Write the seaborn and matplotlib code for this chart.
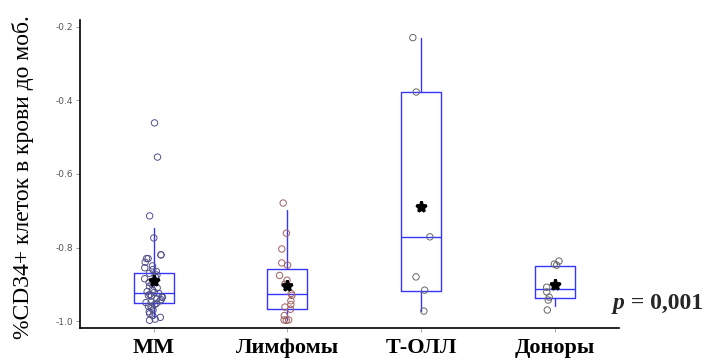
import numpy as np
import pandas as pd
import matplotlib
matplotlib.use("Agg")
import matplotlib.pyplot as plt
import seaborn as sns

# ---------------- data ----------------
categories = ["ММ", "Лимфомы", "Т-ОЛЛ", "Доноры"]

mm_values = [-0.461, -0.554, -0.714, -0.774,
             -0.82, -0.82, -0.83, -0.83, -0.84, -0.85, -0.855, -0.86, -0.865, -0.87,
             -0.875, -0.88, -0.885, -0.89, -0.895, -0.90, -0.905, -0.91, -0.915, -0.92, -0.922,
             -0.925, -0.928, -0.93, -0.932, -0.935, -0.935, -0.94, -0.942, -0.945, -0.948, -0.95, -0.952,
             -0.955, -0.96, -0.96, -0.965, -0.97, -0.975, -0.98, -0.985, -0.99, -0.995, -0.998]
lymph_values = [-0.679, -0.761, -0.804, -0.842, -0.848, -0.876, -0.889, -0.90, -0.925,
                -0.93, -0.945, -0.955, -0.962, -0.968, -0.985, -0.997, -0.997, -0.998]
tall_values = [-0.229, -0.377, -0.771, -0.880, -0.916, -0.973]
donor_values = [-0.837, -0.845, -0.848, -0.908, -0.921, -0.935, -0.943, -0.970]

# box statistics (per category)
box_q1 = [-0.951, -0.967, -0.918, -0.937]
box_median = [-0.924, -0.927, -0.771, -0.913]
box_q3 = [-0.869, -0.858, -0.377, -0.850]
whisker_low = [-0.989, -0.997, -0.973, -0.959]
whisker_high = [-0.747, -0.698, -0.229, -0.850]

y_ticks = [-1.0, -0.8, -0.6, -0.4, -0.2]
y_tick_labels = ["-1.0", "-0.8", "-0.6", "-0.4", "-0.2"]
y_label = "%CD34+ клеток в крови до моб."
p_label_italic = "p"
p_label_rest = " = 0,001"

point_colors = ["#50508a", "#a06060", "#666666", "#666666"]
box_color = "#3535ff"

# ---------------- build frame ----------------
groups = ([categories[0]] * len(mm_values) + [categories[1]] * len(lymph_values)
          + [categories[2]] * len(tall_values) + [categories[3]] * len(donor_values))
values = mm_values + lymph_values + tall_values + donor_values
df = pd.DataFrame({"group": groups, "value": values})

sns.set_theme(style="white")
plt.rcParams["font.family"] = ["DejaVu Sans"]
plt.rcParams["axes.unicode_minus"] = False

fig = plt.figure(figsize=(7.07, 3.62), dpi=100)
ax = fig.add_axes([0.1132, 0.0939, 0.7623, 0.8509])

# boxes
stats = []
for i in range(len(categories)):
    stats.append(dict(med=box_median[i], q1=box_q1[i], q3=box_q3[i],
                      whislo=whisker_low[i], whishi=whisker_high[i], fliers=[]))
lp = dict(color=box_color, linewidth=1.0)
ax.bxp(stats, positions=list(range(len(categories))), widths=0.3, showcaps=False,
       showfliers=False, boxprops=lp, whiskerprops=lp, medianprops=lp,
       manage_ticks=False, zorder=2)

# points
np.random.seed(3)
n_before = len(ax.collections)
sns.stripplot(data=df, x="group", y="value", hue="group", order=categories,
              hue_order=categories, palette=point_colors, jitter=0.07, size=4.6,
              linewidth=0.7, legend=False, ax=ax, zorder=3)
for coll in ax.collections[n_before:]:
    fc = coll.get_facecolors()
    coll.set_edgecolors(fc)
    coll.set_facecolors("none")

# means
sns.pointplot(data=df, x="group", y="value", order=categories, estimator="mean",
              errorbar=None, color="black", marker="*", linestyle="none",
              markersize=8, ax=ax, zorder=4)

ax.set_xlim(-0.55, 3.48)
ax.set_ylim(-1.019, -0.181)
ax.set_yticks(y_ticks)
ax.set_yticklabels(y_tick_labels)
ax.set_xticks(range(len(categories)))
ax.set_xticklabels(categories, fontsize=16, fontweight="bold",
                   family="Liberation Serif", color="black")
ax.set_xlabel("")
ax.set_ylabel("")
for s in ["top", "right"]:
    ax.spines[s].set_visible(False)
for s in ["left", "bottom"]:
    ax.spines[s].set_color("black")
    ax.spines[s].set_linewidth(1.2)
ax.tick_params(axis="y", left=True, length=3, width=0.7, color="#999999",
               labelsize=6.5, labelcolor="#555555", pad=2)
ax.tick_params(axis="x", bottom=True, length=3, width=0.7, color="#aaaaaa", pad=4)

fig.text(0.033, 0.511, y_label, rotation=90, ha="center", va="center",
         fontsize=17, family="Liberation Serif", color="black")

t1 = fig.text(0.867, 0.146, p_label_italic, ha="left", va="baseline", fontsize=17,
              family="Liberation Serif", fontweight="bold", fontstyle="italic")
fig.canvas.draw()
bb = t1.get_window_extent(renderer=fig.canvas.get_renderer())
x_next = bb.x1 / fig.bbox.width
fig.text(x_next, 0.146, p_label_rest, ha="left", va="baseline", fontsize=17,
         family="Liberation Serif", fontweight="bold")

fig.savefig("out.png", dpi=100)
